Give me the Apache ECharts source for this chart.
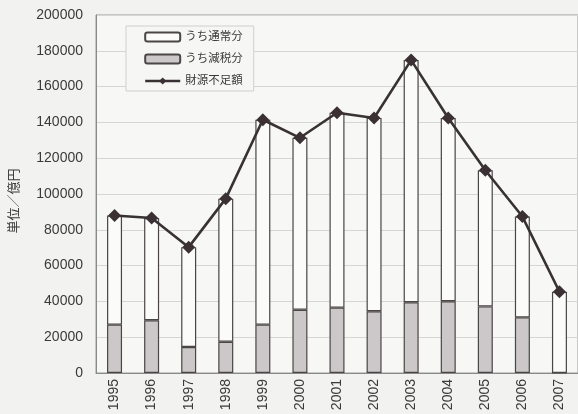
<!DOCTYPE html>
<html>
<head>
<meta charset="utf-8">
<script src="https://cdn.jsdelivr.net/npm/echarts@6/dist/echarts.min.js"></script>
<style>
  html, body { margin: 0; padding: 0; background: #f2f2f0; }
  #chart { width: 578px; height: 414px; }
</style>
</head>
<body>
<div id="chart"></div>
<script>
// Fiscal years on the category axis
const years = ['1995', '1996', '1997', '1998', '1999', '2000', '2001', '2002', '2003', '2004', '2005', '2006', '2007'];
// 財源不足額 (total shortfall, 億円)
const shortfall = [88000, 86600, 70300, 97400, 141500, 131400, 145400, 142500, 174800, 142500, 113300, 87400, 45400];
// うち減税分 (portion due to tax cuts)
const taxCutPart = [27000, 29500, 14500, 17500, 27000, 35300, 36500, 34500, 39500, 40100, 37200, 31100, 0];
// うち通常分 (ordinary portion)
const ordinaryPart = [61000, 57100, 55800, 79900, 114500, 96100, 108900, 108000, 135300, 102400, 76100, 56300, 45400];
// Value-axis ticks
const yTicks = [0, 20000, 40000, 60000, 80000, 100000, 120000, 140000, 160000, 180000, 200000];

const FONT = "'Liberation Sans', 'Noto Sans CJK JP', sans-serif";
const TEXT = '#3a3a3a';
const EDGE = '#4a4546';

const chart = echarts.init(document.getElementById('chart'), null, { renderer: 'canvas' });

chart.setOption({
  backgroundColor: '#f2f2f0',
  animation: false,
  textStyle: { fontFamily: FONT, color: TEXT },
  grid: {
    left: 96, top: 15, width: 487, bottom: 41,
    show: true,
    backgroundColor: '#f7f7f5',
    borderColor: '#9a9a9a',
    borderWidth: 1
  },
  legend: {
    left: 126, top: 26,
    orient: 'vertical',
    padding: [5, 11, 4, 18],
    itemWidth: 35, itemHeight: 9,
    itemGap: 10,
    backgroundColor: '#f6f6f4',
    borderColor: '#cfcfcf',
    borderWidth: 1,
    textStyle: { fontSize: 11.5, color: TEXT, fontFamily: FONT, lineHeight: 12 },
    data: [
      'うち通常分',
      'うち減税分',
      { name: '財源不足額', lineStyle: { width: 2.4 } }
    ]
  },
  xAxis: {
    type: 'category',
    data: years,
    axisLine: { lineStyle: { color: '#8a8a8a', width: 1 } },
    axisTick: { show: false },
    axisLabel: { rotate: 90, fontSize: 14, color: TEXT, margin: 6, fontFamily: FONT },
    splitLine: { show: false }
  },
  yAxis: {
    type: 'value',
    min: yTicks[0],
    max: yTicks[yTicks.length - 1],
    interval: yTicks[1] - yTicks[0],
    name: '単位／億円',
    nameLocation: 'middle',
    nameRotate: 90,
    nameGap: 75,
    nameTextStyle: { fontSize: 13, color: TEXT, padding: [0, 14, 0, 0] },
    axisLine: { show: true, lineStyle: { color: '#8a8a8a', width: 1 } },
    axisTick: { show: false },
    axisLabel: {
      fontSize: 14, color: TEXT, margin: 13, fontFamily: FONT,
      formatter: (v) => String(v)
    },
    splitLine: { show: true, lineStyle: { color: '#d6d6d4', width: 1 } }
  },
  series: [
    {
      name: 'うち減税分',
      type: 'bar',
      stack: 'total',
      barWidth: 15,
      data: taxCutPart,
      itemStyle: { color: '#ccc7c9', borderColor: EDGE, borderWidth: 1.2 }
    },
    {
      name: 'うち通常分',
      type: 'bar',
      stack: 'total',
      barWidth: 15,
      data: ordinaryPart,
      itemStyle: { color: '#fbfbfa', borderColor: EDGE, borderWidth: 1.2 }
    },
    {
      name: '財源不足額',
      type: 'line',
      data: shortfall,
      symbol: 'diamond',
      symbolSize: 13,
      lineStyle: { color: '#383234', width: 2.6 },
      itemStyle: { color: '#3b3135' },
      z: 5
    }
  ]
});
</script>
</body>
</html>
